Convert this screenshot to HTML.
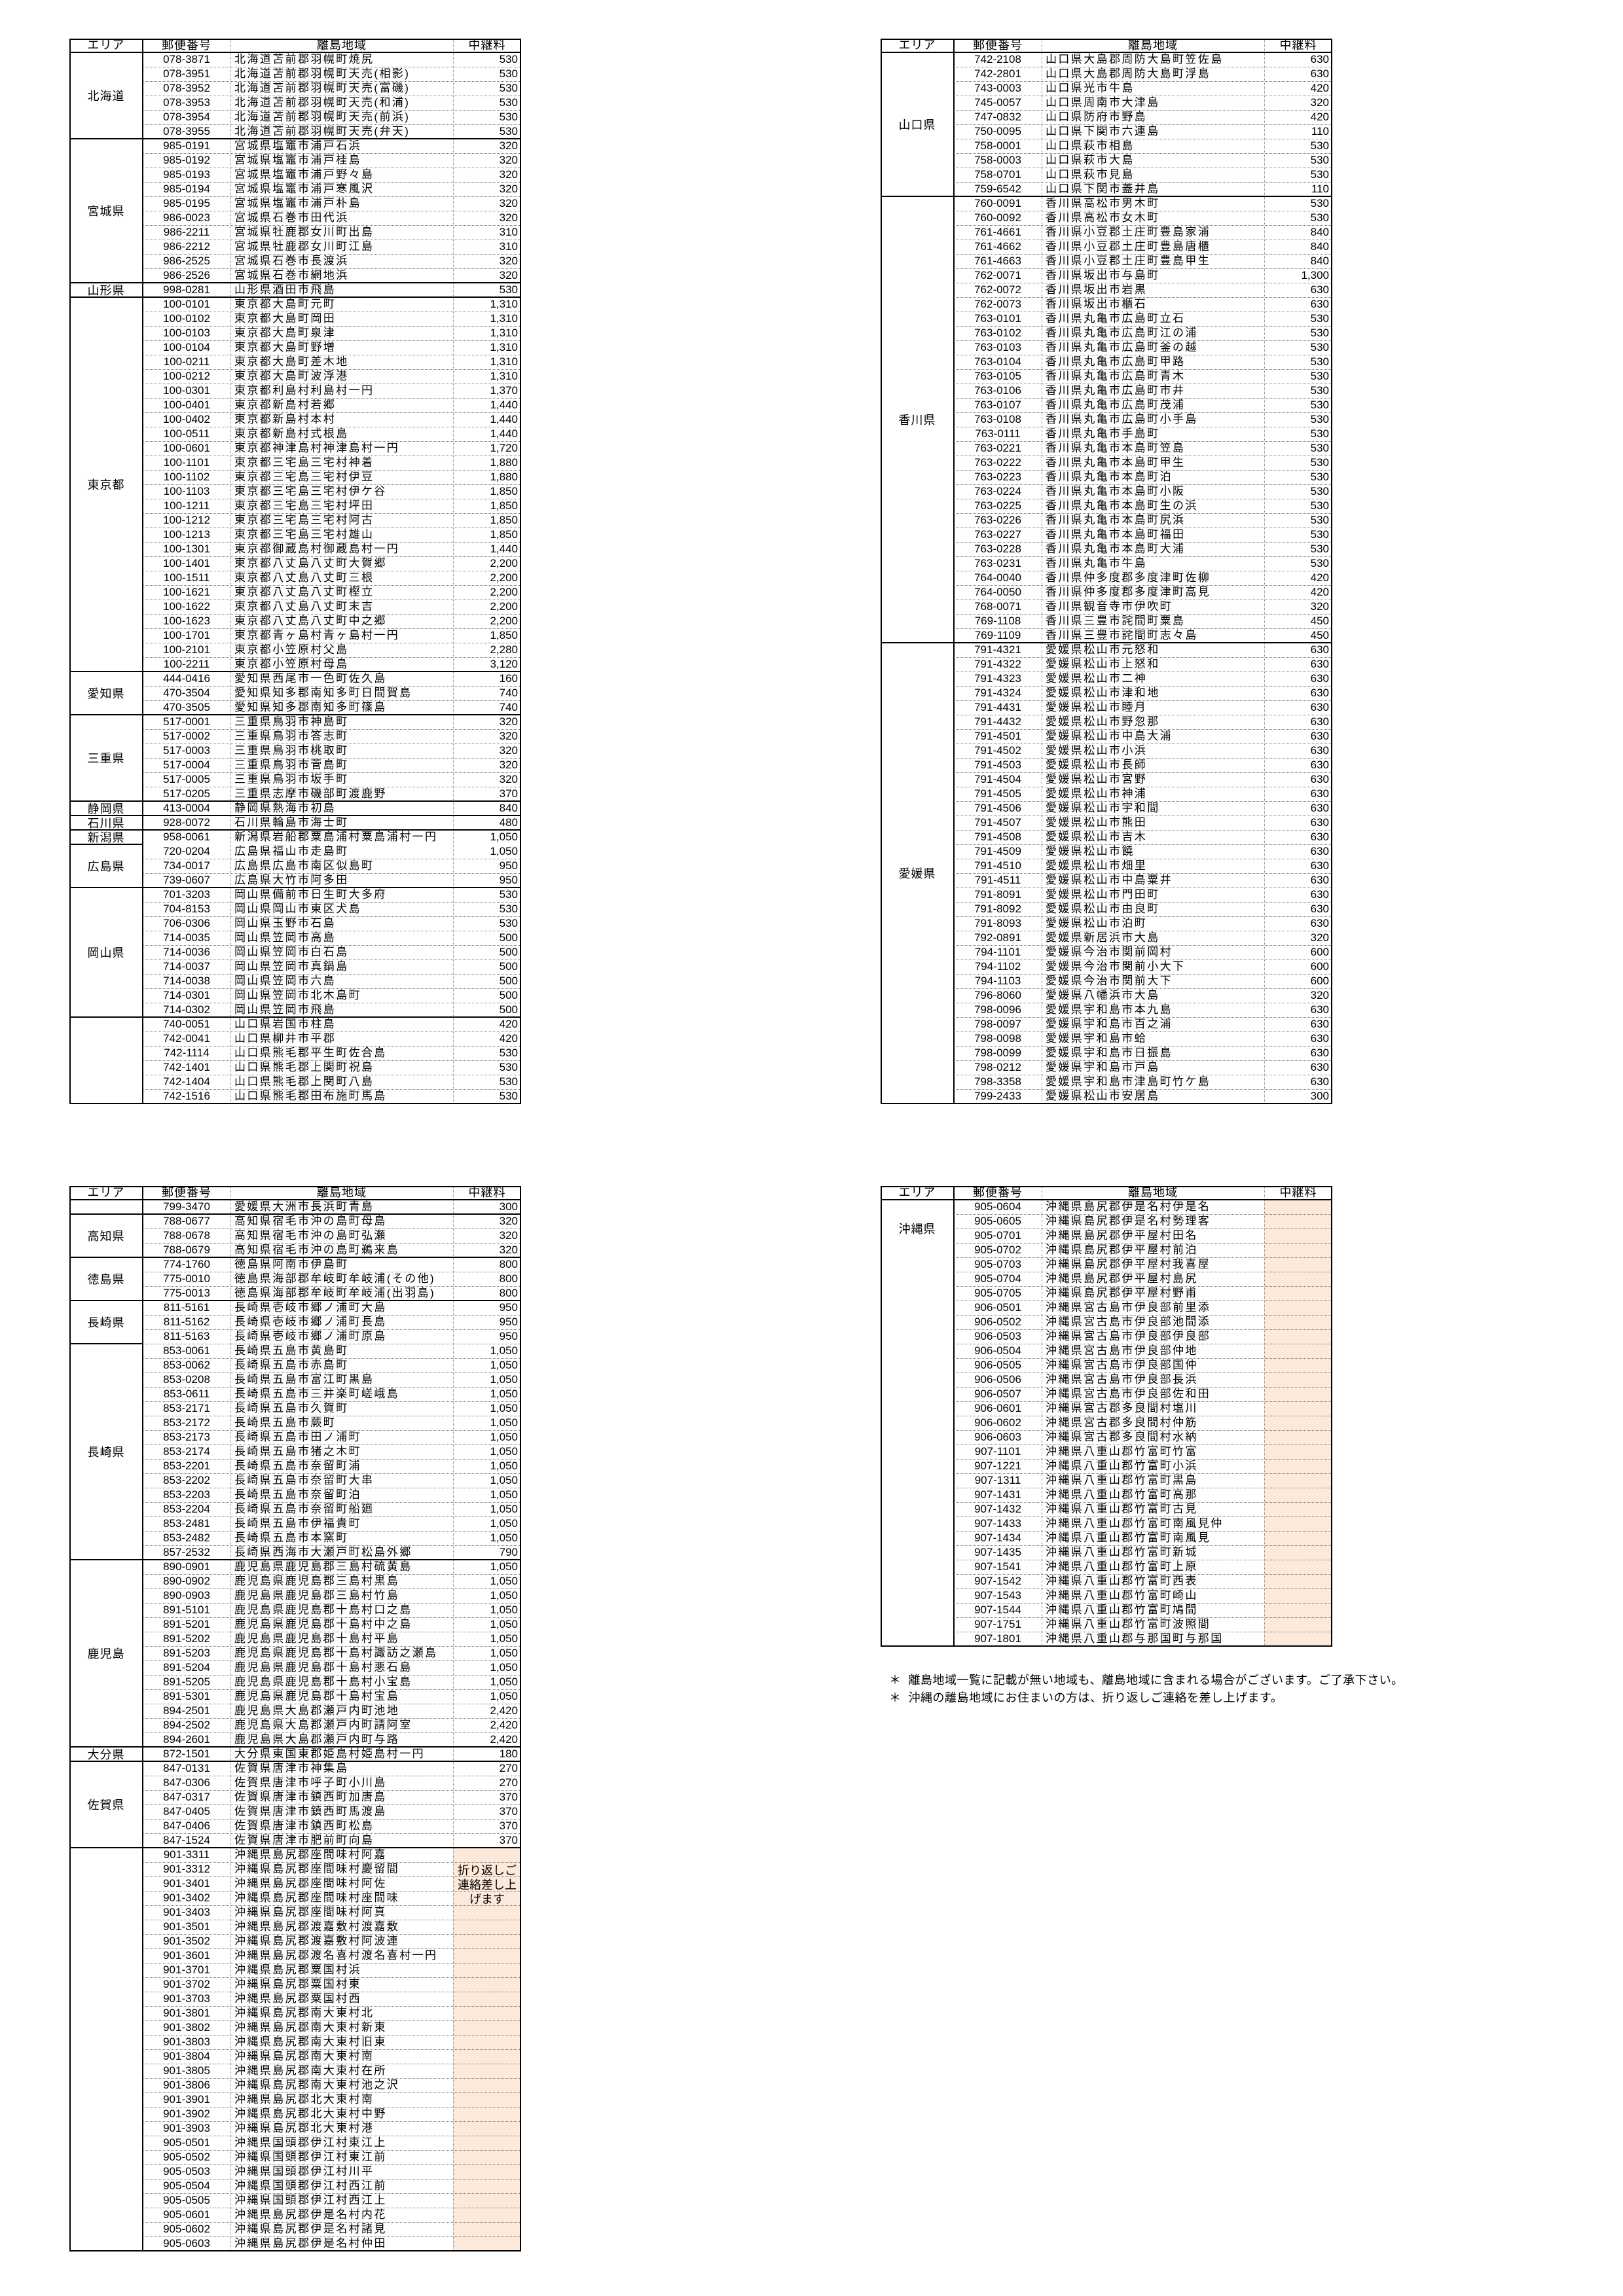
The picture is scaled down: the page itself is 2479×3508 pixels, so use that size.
<!DOCTYPE html>
<html lang="ja"><head><meta charset="utf-8">
<style>
html,body{margin:0;padding:0;background:#fff;}
body{width:2479px;height:3508px;position:relative;overflow:hidden;font-family:"Liberation Sans","Noto Sans CJK JP",sans-serif;color:#000;}
.a{position:absolute;box-sizing:border-box;}
.t{position:absolute;white-space:nowrap;line-height:22px;height:22px;font-size:17px;}
.zip{text-align:center;}
.pl{letter-spacing:2.4px;}
.fee{text-align:right;}
.hd{position:absolute;line-height:21px;height:21px;font-size:18px;text-align:center;letter-spacing:1px;}
.area{position:absolute;display:flex;align-items:center;justify-content:center;font-size:18px;letter-spacing:1px;}
.dot{position:absolute;height:0;border-top:1px dotted #777;}
.vdot{position:absolute;width:0;border-left:1px dotted #888;}
.sol{position:absolute;background:#000;}
.note{position:absolute;font-size:18px;white-space:nowrap;letter-spacing:0.5px;}
</style></head>
<body>
<div id="root"></div>
<div class="note" style="left:1358px;top:2553px;">＊&nbsp;&nbsp;離島地域一覧に記載が無い地域も、離島地域に含まれる場合がございます。ご了承下さい。</div>
<div class="note" style="left:1358px;top:2580px;">＊&nbsp;&nbsp;沖縄の離島地域にお住まいの方は、折り返しご連絡を差し上げます。</div>
<script>
const headers = ["エリア","郵便番号","離島地域","中継料"];
const table1 = [
 ["北海道",[["078-3871","北海道苫前郡羽幌町焼尻","530"],["078-3951","北海道苫前郡羽幌町天売(相影)","530"],["078-3952","北海道苫前郡羽幌町天売(富磯)","530"],["078-3953","北海道苫前郡羽幌町天売(和浦)","530"],["078-3954","北海道苫前郡羽幌町天売(前浜)","530"],["078-3955","北海道苫前郡羽幌町天売(弁天)","530"]]],
 ["宮城県",[["985-0191","宮城県塩竈市浦戸石浜","320"],["985-0192","宮城県塩竈市浦戸桂島","320"],["985-0193","宮城県塩竈市浦戸野々島","320"],["985-0194","宮城県塩竈市浦戸寒風沢","320"],["985-0195","宮城県塩竈市浦戸朴島","320"],["986-0023","宮城県石巻市田代浜","320"],["986-2211","宮城県牡鹿郡女川町出島","310"],["986-2212","宮城県牡鹿郡女川町江島","310"],["986-2525","宮城県石巻市長渡浜","320"],["986-2526","宮城県石巻市網地浜","320"]]],
 ["山形県",[["998-0281","山形県酒田市飛島","530"]]],
 ["東京都",[["100-0101","東京都大島町元町","1,310"],["100-0102","東京都大島町岡田","1,310"],["100-0103","東京都大島町泉津","1,310"],["100-0104","東京都大島町野増","1,310"],["100-0211","東京都大島町差木地","1,310"],["100-0212","東京都大島町波浮港","1,310"],["100-0301","東京都利島村利島村一円","1,370"],["100-0401","東京都新島村若郷","1,440"],["100-0402","東京都新島村本村","1,440"],["100-0511","東京都新島村式根島","1,440"],["100-0601","東京都神津島村神津島村一円","1,720"],["100-1101","東京都三宅島三宅村神着","1,880"],["100-1102","東京都三宅島三宅村伊豆","1,880"],["100-1103","東京都三宅島三宅村伊ケ谷","1,850"],["100-1211","東京都三宅島三宅村坪田","1,850"],["100-1212","東京都三宅島三宅村阿古","1,850"],["100-1213","東京都三宅島三宅村雄山","1,850"],["100-1301","東京都御蔵島村御蔵島村一円","1,440"],["100-1401","東京都八丈島八丈町大賀郷","2,200"],["100-1511","東京都八丈島八丈町三根","2,200"],["100-1621","東京都八丈島八丈町樫立","2,200"],["100-1622","東京都八丈島八丈町末吉","2,200"],["100-1623","東京都八丈島八丈町中之郷","2,200"],["100-1701","東京都青ヶ島村青ヶ島村一円","1,850"],["100-2101","東京都小笠原村父島","2,280"],["100-2211","東京都小笠原村母島","3,120"]]],
 ["愛知県",[["444-0416","愛知県西尾市一色町佐久島","160"],["470-3504","愛知県知多郡南知多町日間賀島","740"],["470-3505","愛知県知多郡南知多町篠島","740"]]],
 ["三重県",[["517-0001","三重県鳥羽市神島町","320"],["517-0002","三重県鳥羽市答志町","320"],["517-0003","三重県鳥羽市桃取町","320"],["517-0004","三重県鳥羽市菅島町","320"],["517-0005","三重県鳥羽市坂手町","320"],["517-0205","三重県志摩市磯部町渡鹿野","370"]]],
 ["静岡県",[["413-0004","静岡県熱海市初島","840"]]],
 ["石川県",[["928-0072","石川県輪島市海士町","480"]]],
 ["新潟県",[["958-0061","新潟県岩船郡粟島浦村粟島浦村一円","1,050"]]],
 ["広島県",[["720-0204","広島県福山市走島町","1,050"],["734-0017","広島県広島市南区似島町","950"],["739-0607","広島県大竹市阿多田","950"]],{split:"none"}],
 ["岡山県",[["701-3203","岡山県備前市日生町大多府","530"],["704-8153","岡山県岡山市東区犬島","530"],["706-0306","岡山県玉野市石島","530"],["714-0035","岡山県笠岡市高島","500"],["714-0036","岡山県笠岡市白石島","500"],["714-0037","岡山県笠岡市真鍋島","500"],["714-0038","岡山県笠岡市六島","500"],["714-0301","岡山県笠岡市北木島町","500"],["714-0302","岡山県笠岡市飛島","500"]]],
 ["",[["740-0051","山口県岩国市柱島","420"],["742-0041","山口県柳井市平郡","420"],["742-1114","山口県熊毛郡平生町佐合島","530"],["742-1401","山口県熊毛郡上関町祝島","530"],["742-1404","山口県熊毛郡上関町八島","530"],["742-1516","山口県熊毛郡田布施町馬島","530"]]]
];
const table2 = [
 ["山口県",[["742-2108","山口県大島郡周防大島町笠佐島","630"],["742-2801","山口県大島郡周防大島町浮島","630"],["743-0003","山口県光市牛島","420"],["745-0057","山口県周南市大津島","320"],["747-0832","山口県防府市野島","420"],["750-0095","山口県下関市六連島","110"],["758-0001","山口県萩市相島","530"],["758-0003","山口県萩市大島","530"],["758-0701","山口県萩市見島","530"],["759-6542","山口県下関市蓋井島","110"]]],
 ["香川県",[["760-0091","香川県高松市男木町","530"],["760-0092","香川県高松市女木町","530"],["761-4661","香川県小豆郡土庄町豊島家浦","840"],["761-4662","香川県小豆郡土庄町豊島唐櫃","840"],["761-4663","香川県小豆郡土庄町豊島甲生","840"],["762-0071","香川県坂出市与島町","1,300"],["762-0072","香川県坂出市岩黒","630"],["762-0073","香川県坂出市櫃石","630"],["763-0101","香川県丸亀市広島町立石","530"],["763-0102","香川県丸亀市広島町江の浦","530"],["763-0103","香川県丸亀市広島町釜の越","530"],["763-0104","香川県丸亀市広島町甲路","530"],["763-0105","香川県丸亀市広島町青木","530"],["763-0106","香川県丸亀市広島町市井","530"],["763-0107","香川県丸亀市広島町茂浦","530"],["763-0108","香川県丸亀市広島町小手島","530"],["763-0111","香川県丸亀市手島町","530"],["763-0221","香川県丸亀市本島町笠島","530"],["763-0222","香川県丸亀市本島町甲生","530"],["763-0223","香川県丸亀市本島町泊","530"],["763-0224","香川県丸亀市本島町小阪","530"],["763-0225","香川県丸亀市本島町生の浜","530"],["763-0226","香川県丸亀市本島町尻浜","530"],["763-0227","香川県丸亀市本島町福田","530"],["763-0228","香川県丸亀市本島町大浦","530"],["763-0231","香川県丸亀市牛島","530"],["764-0040","香川県仲多度郡多度津町佐柳","420"],["764-0050","香川県仲多度郡多度津町高見","420"],["768-0071","香川県観音寺市伊吹町","320"],["769-1108","香川県三豊市詫間町粟島","450"],["769-1109","香川県三豊市詫間町志々島","450"]]],
 ["愛媛県",[["791-4321","愛媛県松山市元怒和","630"],["791-4322","愛媛県松山市上怒和","630"],["791-4323","愛媛県松山市二神","630"],["791-4324","愛媛県松山市津和地","630"],["791-4431","愛媛県松山市睦月","630"],["791-4432","愛媛県松山市野忽那","630"],["791-4501","愛媛県松山市中島大浦","630"],["791-4502","愛媛県松山市小浜","630"],["791-4503","愛媛県松山市長師","630"],["791-4504","愛媛県松山市宮野","630"],["791-4505","愛媛県松山市神浦","630"],["791-4506","愛媛県松山市宇和間","630"],["791-4507","愛媛県松山市熊田","630"],["791-4508","愛媛県松山市吉木","630"],["791-4509","愛媛県松山市饒","630"],["791-4510","愛媛県松山市畑里","630"],["791-4511","愛媛県松山市中島粟井","630"],["791-8091","愛媛県松山市門田町","630"],["791-8092","愛媛県松山市由良町","630"],["791-8093","愛媛県松山市泊町","630"],["792-0891","愛媛県新居浜市大島","320"],["794-1101","愛媛県今治市関前岡村","600"],["794-1102","愛媛県今治市関前小大下","600"],["794-1103","愛媛県今治市関前大下","600"],["796-8060","愛媛県八幡浜市大島","320"],["798-0096","愛媛県宇和島市本九島","630"],["798-0097","愛媛県宇和島市百之浦","630"],["798-0098","愛媛県宇和島市蛤","630"],["798-0099","愛媛県宇和島市日振島","630"],["798-0212","愛媛県宇和島市戸島","630"],["798-3358","愛媛県宇和島市津島町竹ケ島","630"],["799-2433","愛媛県松山市安居島","300"]]]
];
const table3 = [
 ["",[["799-3470","愛媛県大洲市長浜町青島","300"]]],
 ["高知県",[["788-0677","高知県宿毛市沖の島町母島","320"],["788-0678","高知県宿毛市沖の島町弘瀬","320"],["788-0679","高知県宿毛市沖の島町鵜来島","320"]]],
 ["徳島県",[["774-1760","徳島県阿南市伊島町","800"],["775-0010","徳島県海部郡牟岐町牟岐浦(その他)","800"],["775-0013","徳島県海部郡牟岐町牟岐浦(出羽島)","800"]]],
 ["長崎県",[["811-5161","長崎県壱岐市郷ノ浦町大島","950"],["811-5162","長崎県壱岐市郷ノ浦町長島","950"],["811-5163","長崎県壱岐市郷ノ浦町原島","950"]]],
 ["長崎県",[["853-0061","長崎県五島市黄島町","1,050"],["853-0062","長崎県五島市赤島町","1,050"],["853-0208","長崎県五島市富江町黒島","1,050"],["853-0611","長崎県五島市三井楽町嵯峨島","1,050"],["853-2171","長崎県五島市久賀町","1,050"],["853-2172","長崎県五島市蕨町","1,050"],["853-2173","長崎県五島市田ノ浦町","1,050"],["853-2174","長崎県五島市猪之木町","1,050"],["853-2201","長崎県五島市奈留町浦","1,050"],["853-2202","長崎県五島市奈留町大串","1,050"],["853-2203","長崎県五島市奈留町泊","1,050"],["853-2204","長崎県五島市奈留町船廻","1,050"],["853-2481","長崎県五島市伊福貴町","1,050"],["853-2482","長崎県五島市本窯町","1,050"],["857-2532","長崎県西海市大瀬戸町松島外郷","790"]],{split:"dot"}],
 ["鹿児島",[["890-0901","鹿児島県鹿児島郡三島村硫黄島","1,050"],["890-0902","鹿児島県鹿児島郡三島村黒島","1,050"],["890-0903","鹿児島県鹿児島郡三島村竹島","1,050"],["891-5101","鹿児島県鹿児島郡十島村口之島","1,050"],["891-5201","鹿児島県鹿児島郡十島村中之島","1,050"],["891-5202","鹿児島県鹿児島郡十島村平島","1,050"],["891-5203","鹿児島県鹿児島郡十島村諏訪之瀬島","1,050"],["891-5204","鹿児島県鹿児島郡十島村悪石島","1,050"],["891-5205","鹿児島県鹿児島郡十島村小宝島","1,050"],["891-5301","鹿児島県鹿児島郡十島村宝島","1,050"],["894-2501","鹿児島県大島郡瀬戸内町池地","2,420"],["894-2502","鹿児島県大島郡瀬戸内町請阿室","2,420"],["894-2601","鹿児島県大島郡瀬戸内町与路","2,420"]]],
 ["大分県",[["872-1501","大分県東国東郡姫島村姫島村一円","180"]]],
 ["佐賀県",[["847-0131","佐賀県唐津市神集島","270"],["847-0306","佐賀県唐津市呼子町小川島","270"],["847-0317","佐賀県唐津市鎮西町加唐島","370"],["847-0405","佐賀県唐津市鎮西町馬渡島","370"],["847-0406","佐賀県唐津市鎮西町松島","370"],["847-1524","佐賀県唐津市肥前町向島","370"]]],
 ["",[["901-3311","沖縄県島尻郡座間味村阿嘉",""],["901-3312","沖縄県島尻郡座間味村慶留間",""],["901-3401","沖縄県島尻郡座間味村阿佐",""],["901-3402","沖縄県島尻郡座間味村座間味",""],["901-3403","沖縄県島尻郡座間味村阿真",""],["901-3501","沖縄県島尻郡渡嘉敷村渡嘉敷",""],["901-3502","沖縄県島尻郡渡嘉敷村阿波連",""],["901-3601","沖縄県島尻郡渡名喜村渡名喜村一円",""],["901-3701","沖縄県島尻郡粟国村浜",""],["901-3702","沖縄県島尻郡粟国村東",""],["901-3703","沖縄県島尻郡粟国村西",""],["901-3801","沖縄県島尻郡南大東村北",""],["901-3802","沖縄県島尻郡南大東村新東",""],["901-3803","沖縄県島尻郡南大東村旧東",""],["901-3804","沖縄県島尻郡南大東村南",""],["901-3805","沖縄県島尻郡南大東村在所",""],["901-3806","沖縄県島尻郡南大東村池之沢",""],["901-3901","沖縄県島尻郡北大東村南",""],["901-3902","沖縄県島尻郡北大東村中野",""],["901-3903","沖縄県島尻郡北大東村港",""],["905-0501","沖縄県国頭郡伊江村東江上",""],["905-0502","沖縄県国頭郡伊江村東江前",""],["905-0503","沖縄県国頭郡伊江村川平",""],["905-0504","沖縄県国頭郡伊江村西江前",""],["905-0505","沖縄県国頭郡伊江村西江上",""],["905-0601","沖縄県島尻郡伊是名村内花",""],["905-0602","沖縄県島尻郡伊是名村諸見",""],["905-0603","沖縄県島尻郡伊是名村仲田",""]],{peach:true,note:["折り返しご","連絡差し上","げます"]}]
];
const table4 = [
 ["沖縄県",[["905-0604","沖縄県島尻郡伊是名村伊是名",""],["905-0605","沖縄県島尻郡伊是名村勢理客",""],["905-0701","沖縄県島尻郡伊平屋村田名",""],["905-0702","沖縄県島尻郡伊平屋村前泊",""],["905-0703","沖縄県島尻郡伊平屋村我喜屋",""],["905-0704","沖縄県島尻郡伊平屋村島尻",""],["905-0705","沖縄県島尻郡伊平屋村野甫",""],["906-0501","沖縄県宮古島市伊良部前里添",""],["906-0502","沖縄県宮古島市伊良部池間添",""],["906-0503","沖縄県宮古島市伊良部伊良部",""],["906-0504","沖縄県宮古島市伊良部仲地",""],["906-0505","沖縄県宮古島市伊良部国仲",""],["906-0506","沖縄県宮古島市伊良部長浜",""],["906-0507","沖縄県宮古島市伊良部佐和田",""],["906-0601","沖縄県宮古郡多良間村塩川",""],["906-0602","沖縄県宮古郡多良間村仲筋",""],["906-0603","沖縄県宮古郡多良間村水納",""],["907-1101","沖縄県八重山郡竹富町竹富",""],["907-1221","沖縄県八重山郡竹富町小浜",""],["907-1311","沖縄県八重山郡竹富町黒島",""],["907-1431","沖縄県八重山郡竹富町高那",""],["907-1432","沖縄県八重山郡竹富町古見",""],["907-1433","沖縄県八重山郡竹富町南風見仲",""],["907-1434","沖縄県八重山郡竹富町南風見",""],["907-1435","沖縄県八重山郡竹富町新城",""],["907-1541","沖縄県八重山郡竹富町上原",""],["907-1542","沖縄県八重山郡竹富町西表",""],["907-1543","沖縄県八重山郡竹富町崎山",""],["907-1544","沖縄県八重山郡竹富町鳩間",""],["907-1751","沖縄県八重山郡竹富町波照間",""],["907-1801","沖縄県八重山郡与那国町与那国",""]],{peach:true,labelRows:4}]
];

const W=[112,134,340,104], RH=22, HH=21, TW=690;
const root=document.getElementById('root');
function mk(cls,st,txt){const d=document.createElement('div');d.className=cls;Object.assign(d.style,st);if(txt!==undefined)d.textContent=txt;root.appendChild(d);return d;}
function drawTable(x0,y0,groups,tname){
  const c1=x0+W[0], c2=c1+W[1], c3=c2+W[2];
  let total=0; groups.forEach(g=>total+=g[1].length);
  const bottom=y0+HH+total*RH;
  // peach backgrounds
  let y=y0+HH;
  groups.forEach(g=>{const o=g[2]||{};if(o.peach){const p=mk('a',{left:c3+'px',top:y+'px',width:W[3]+'px',height:(g[1].length*RH)+'px',background:'#fde9d9'});

}y+=g[1].length*RH;});
  // header
  const hx=[x0,c1,c2,c3];
  headers.forEach((h,i)=>{const d=mk('hd',{left:hx[i]+'px',top:y0+'px',width:W[i]+'px'},h);

});
  // vertical lines
  mk('vdot',{left:c2+'px',top:y0+'px',height:(bottom-y0)+'px'});
  mk('vdot',{left:c3+'px',top:y0+'px',height:(bottom-y0)+'px'});
  mk('sol',{left:(c1-1)+'px',top:y0+'px',width:'2px',height:(bottom-y0)+'px'});
  mk('sol',{left:x0+'px',top:(y0+HH-1)+'px',width:TW+'px',height:'2px'});
  y=y0+HH;
  groups.forEach((g,gi)=>{
    const o=g[2]||{}, rows=g[1];
    if(gi>0){
      if(o.split==='none'||o.split==='dot'){
        mk('sol',{left:x0+'px',top:(y-1)+'px',width:W[0]+'px',height:'2px'});
        if(o.split==='dot') mk('dot',{left:c1+'px',top:y+'px',width:(TW-W[0])+'px'});
      } else mk('sol',{left:x0+'px',top:(y-1)+'px',width:TW+'px',height:'2px'});
    }
    const lr=o.labelRows||rows.length;
    const a=mk('area',{left:x0+'px',top:y+'px',width:W[0]+'px',height:(lr*RH)+'px'},g[0]);
    
    
    rows.forEach((r,i)=>{
      const ry=y+i*RH;
      if(i>0) mk('dot',{left:c1+'px',top:ry+'px',width:(TW-W[0])+'px'});
      const z=mk('t zip',{left:c1+'px',top:ry+'px',width:W[1]+'px'},r[0]);
      
      
      const p=mk('t pl',{left:(c2+6)+'px',top:ry+'px'},r[1]);
      
      
      if(r[2]){const f=mk('t fee',{left:c3+'px',top:ry+'px',width:(W[3]-5)+'px'},r[2]);
      
      }
    });
    if(o.note){o.note.forEach((n,k)=>{const d=mk('t',{left:c3+'px',top:(y+(k+1)*RH+2)+'px',width:W[3]+'px',textAlign:'center',fontSize:'18px'},n);

});}
    y+=rows.length*RH;
  });
  const b=mk('a',{left:x0+'px',top:y0+'px',width:TW+'px',height:(bottom-y0+1)+'px',border:'2px solid #000'});
  
  
}
drawTable(106,59,table1,'table-top-left');
drawTable(1345,59,table2,'table-top-right');
drawTable(106,1812,table3,'table-bottom-left');
drawTable(1345,1812,table4,'table-bottom-right');
</script>
</body></html>
